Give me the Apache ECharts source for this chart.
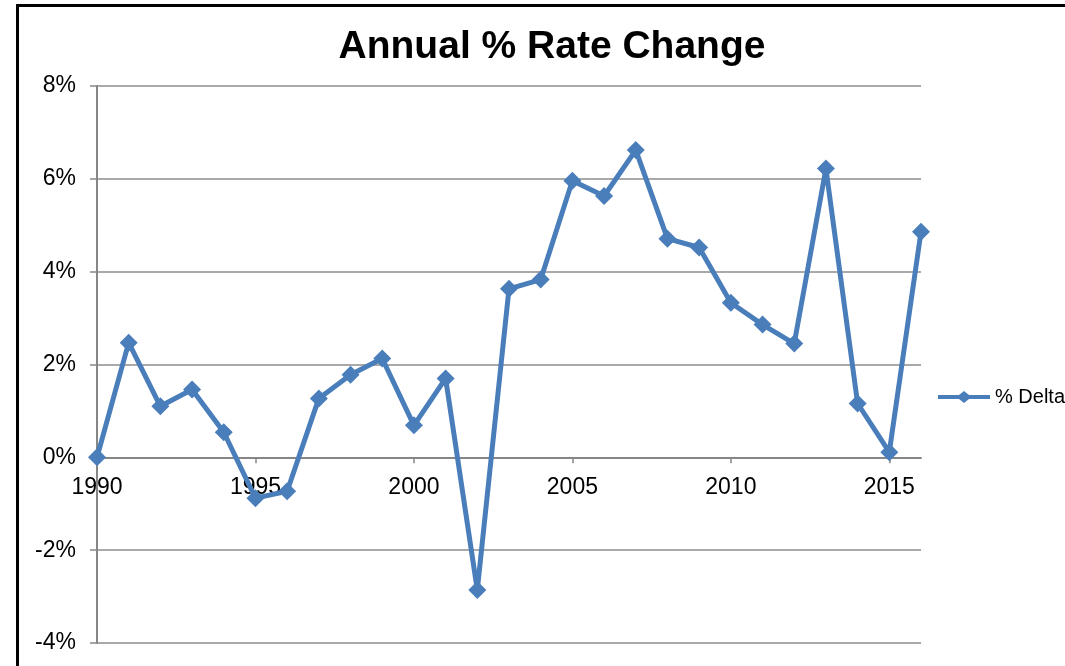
<!DOCTYPE html>
<html><head><meta charset="utf-8">
<script src="https://cdn.jsdelivr.net/npm/echarts@6/dist/echarts.min.js"></script>
<style>html,body{margin:0;padding:0;background:#fff}#c{width:1065px;height:666px}</style>
</head><body><div id="c"></div>
<script>
var years = [1990,1991,1992,1993,1994,1995,1996,1997,1998,1999,2000,2001,2002,2003,2004,2005,2006,2007,2008,2009,2010,2011,2012,2013,2014,2015,2016];
var delta = [0,2.47,1.10,1.46,0.54,-0.88,-0.73,1.27,1.78,2.13,0.69,1.70,-2.86,3.63,3.83,5.96,5.63,6.62,4.71,4.52,3.33,2.86,2.45,6.22,1.16,0.11,4.86];
var xTickLabels = [1990,1995,2000,2005,2010,2015];
var seriesName = '% Delta';
var titleText = 'Annual % Rate Change';

var chart = echarts.init(document.getElementById('c'));
var font = 'Liberation Sans, Arial, sans-serif';
chart.setOption({
  animation: false,
  backgroundColor: '#fff',
  title: {text: titleText, left: 547, top: 23, textAlign: 'center',
    textStyle: {fontFamily: font, fontSize: 39, fontWeight: 'bold', color: '#000'}},
  legend: {show: true, left: 938, top: 387, padding: 0, itemWidth: 52, itemHeight: 12, itemGap: 4,
    textStyle: {fontFamily: font, fontSize: 20, color: '#000'},
    data: [{name: seriesName, icon: 'path://M0,4 L21,4 L26,0 L31,4 L52,4 L52,8 L31,8 L26,12 L21,8 L0,8 Z'}]},
  grid: {left: 97, right: 144, top: 86, bottom: 23, outerBoundsMode: 'none', containLabel: false},
  graphic: [{type: 'rect', shape: {x: 17.5, y: 5.5, width: 1100, height: 700},
    style: {fill: 'none', stroke: '#000', lineWidth: 3}, silent: true, z: 100}],
  xAxis: {type: 'value', min: 1990, max: 2016, interval: 5,
    axisLine: {onZero: true, lineStyle: {color: '#868686', width: 2}},
    axisTick: {show: true, inside: false, length: 6, customValues: xTickLabels, lineStyle: {color: '#868686', width: 1.5}},
    axisLabel: {show: false},
    splitLine: {show: false}},
  yAxis: {type: 'value', min: -4, max: 8, interval: 2,
    axisLine: {show: true, lineStyle: {color: '#868686', width: 2}},
    axisTick: {show: true, length: 7, lineStyle: {color: '#868686', width: 1.5}},
    axisLabel: {formatter: '{value}%', fontFamily: font, fontSize: 23, color: '#000', margin: 21},
    splitLine: {show: true, lineStyle: {color: '#8c8c8c', width: 1.5}}},
  series: [
    {name: 'xlabels', type: 'scatter', symbolSize: 0, silent: true, z: 1,
     itemStyle: {color: '#000', opacity: 1},
     data: xTickLabels.map(function(y){return [y, 0];}),
     label: {show: true, position: 'bottom', distance: 19, formatter: function(p){return String(p.value[0]);},
       fontFamily: font, fontSize: 23, color: '#000', opacity: 1}},
    {name: seriesName, type: 'line',
    data: years.map(function(y,i){return [y, delta[i]];}),
    symbol: 'diamond', symbolSize: 18, showAllSymbol: true,
    lineStyle: {color: '#4a7ebb', width: 5},
    itemStyle: {color: '#4a7ebb'}, z: 3}]
});
</script></body></html>
